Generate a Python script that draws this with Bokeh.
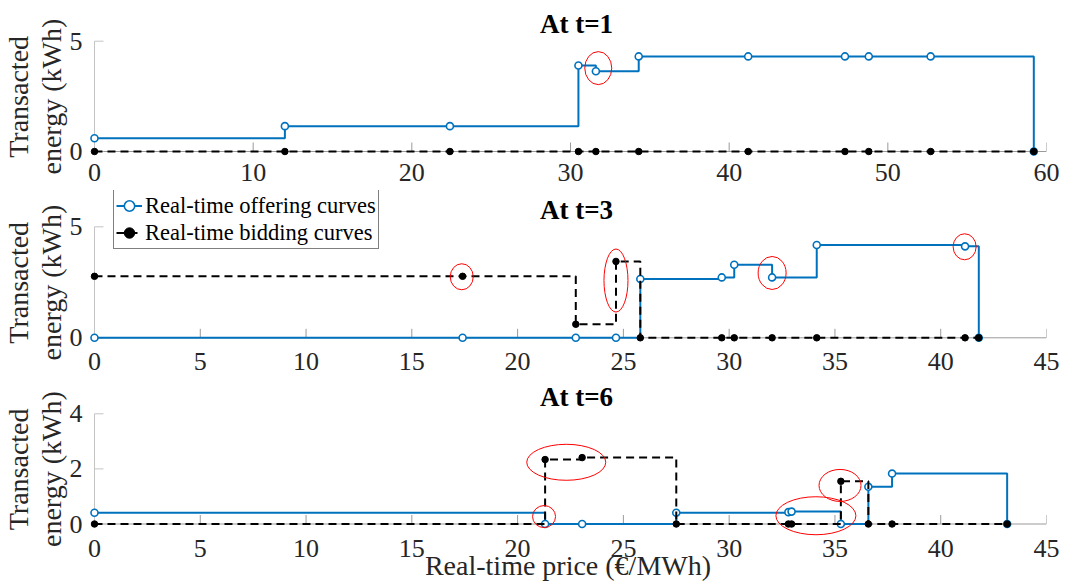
from bokeh.plotting import figure
from bokeh.layouts import column
from bokeh.models import (Range1d, FixedTicker, Legend, LegendItem, ColumnDataSource,
                          Label, Title)
from bokeh.embed import file_html
from bokeh.resources import INLINE

# ---------------- data ----------------
price_t1 = [0, 12.0, 22.4, 30.5, 31.6, 34.3, 41.2, 47.3, 48.8, 52.7, 59.2]
offer_t1 = [0.6, 1.15, 1.15, 3.9, 3.64, 4.31, 4.31, 4.31, 4.31, 4.31, 0]
bid_t1 = [0, 0, 0, 0, 0, 0, 0, 0, 0, 0, 0]

price_t3 = [0, 17.4, 22.75, 24.65, 25.8, 29.65, 30.24, 32.03, 34.14, 41.15, 41.8]
offer_t3 = [0, 0, 0, 0, 2.65, 2.72, 3.29, 2.72, 4.18, 4.12, 0]
bid_t3 = [2.77, 2.77, 0.61, 3.44, 0, 0, 0, 0, 0, 0, 0]

price_t6 = [0, 21.3, 23.05, 27.5, 32.8, 32.95, 35.28, 36.58, 37.7, 43.14]
offer_t6 = [0.41, 0, 0, 0.41, 0.43, 0.45, 0, 1.35, 1.83, 0]
bid_t6 = [0, 2.34, 2.41, 0, 0, 0, 1.55, 0, 0, 0]

# red highlight rings (centre in data units, size in px)
ring_t1_x = [31.75]
ring_t1_y = [3.78]
ring_t1_w = [27]
ring_t1_h = [33]

ring_t3_x = [17.36, 24.65, 32.03, 41.13]
ring_t3_y = [2.75, 2.58, 2.92, 4.10]
ring_t3_w = [23, 24, 28, 23]
ring_t3_h = [26, 63, 33, 26]

ring_t6_x = [22.3, 21.25, 34.1, 35.24]
ring_t6_y = [2.24, 0.27, 0.30, 1.40]
ring_t6_w = [79, 23, 80, 42]
ring_t6_h = [36, 22, 38, 32]

xticks_t1 = [0, 10, 20, 30, 40, 50, 60]
xticks_t36 = [0, 5, 10, 15, 20, 25, 30, 35, 40, 45]
yticks_t1 = [0, 5]
yticks_t3 = [0, 5]
yticks_t6 = [0, 2, 4]
xmax_t1 = 60
xmax_t36 = 45
ymax_t1 = 5
ymax_t3 = 5
ymax_t6 = 4

titles = ["At t=1", "At t=3", "At t=6"]
legend_labels = ["Real-time offering curves", "Real-time bidding curves"]
x_label = "Real-time price (€/MWh)"
y_label_lines = ["Transacted", "energy (kWh)"]

# ---------------- style / layout ----------------
FONT = "Liberation Serif"
BLUE = "#0072BD"
XAX = "#9a9a9a"
YAX = "#c4c4c4"
TXT = "#262626"
W = 1078
ZERO_X = 92          # px of x=0
RIGHT_X = 1046       # px of x=xmax
XPAD = 5
LEFT = ZERO_X - XPAD
RIGHT = W - RIGHT_X
TICK = 9
YLAB_PX = 28
YLAB_EM = [4.387, 5.581]   # advance widths (em) of the two y-label lines


def make_panel(title, price, offer, bid, xmax, xticks, ymax, yticks,
               height, top_px, zero_px, frame_bottom, label_standoff,
               rings, show_xlabel):
    xscale = (RIGHT_X - ZERO_X) / xmax
    x_start = -XPAD / xscale
    yscale = (zero_px - top_px) / ymax
    y_end = ymax + top_px / yscale
    y_start = -(frame_bottom - zero_px) / yscale
    p = figure(width=W, height=height,
               x_range=Range1d(x_start, xmax), y_range=Range1d(y_start, y_end),
               output_backend="svg", toolbar_location=None,
               min_border_left=LEFT, min_border_right=RIGHT,
               min_border_top=0, min_border_bottom=height - frame_bottom)
    p.xgrid.visible = False
    p.ygrid.visible = False
    p.outline_line_color = None
    p.background_fill_color = "white"
    p.border_fill_color = "white"

    for ax in p.xaxis:
        ax.ticker = FixedTicker(ticks=xticks)
        ax.axis_line_color = None
        ax.major_tick_line_color = None
        ax.minor_tick_line_color = None
        ax.major_label_text_font = FONT
        ax.major_label_text_font_size = "26px"
        ax.major_label_text_color = TXT
        ax.major_label_standoff = label_standoff
        if show_xlabel:
            ax.axis_label = x_label
            ax.axis_label_text_font = FONT
            ax.axis_label_text_font_size = "28px"
            ax.axis_label_text_font_style = "normal"
            ax.axis_label_text_color = TXT
            ax.axis_label_standoff = -10
    for ax in p.yaxis:
        ax.ticker = FixedTicker(ticks=yticks)
        ax.axis_line_color = None
        ax.major_tick_line_color = None
        ax.minor_tick_line_color = None
        ax.major_label_text_font = FONT
        ax.major_label_text_font_size = "26px"
        ax.major_label_text_color = TXT
        ax.major_label_standoff = 1

    # y-axis title (two lines), each centred on the 0..ymax span
    centre_from_bottom = frame_bottom - (top_px + zero_px) / 2
    for line, em in reversed(list(zip(y_label_lines, YLAB_EM))):
        off = centre_from_bottom - em * YLAB_PX / 2
        p.add_layout(Title(text=line, align="left", offset=off, standoff=0,
                           text_font=FONT, text_font_size="%dpx" % YLAB_PX,
                           text_font_style="normal", text_color=TXT), "left")

    # axis lines and inward ticks at the zero lines
    p.segment(x0=[xticks[0]], y0=[0], x1=[xticks[-1]], y1=[0], line_color=XAX, line_width=1)
    p.segment(x0=xticks, y0=[0] * len(xticks), x1=xticks,
              y1=[TICK / yscale] * len(xticks), line_color=XAX, line_width=1)
    p.segment(x0=[0], y0=[yticks[0]], x1=[0], y1=[yticks[-1]], line_color=YAX, line_width=1)
    p.segment(x0=[0] * len(yticks), y0=yticks, x1=[TICK / xscale] * len(yticks),
              y1=yticks, line_color=YAX, line_width=1)

    so = ColumnDataSource(dict(x=price, y=offer))
    sb = ColumnDataSource(dict(x=price, y=bid))
    r1 = p.step("x", "y", source=so, mode="after", line_color=BLUE, line_width=2)
    r2 = p.scatter("x", "y", source=so, marker="circle", size=7,
                   line_color=BLUE, line_width=1.6, fill_color="white")
    r3 = p.step("x", "y", source=sb, mode="after", line_color="black",
                line_width=2, line_dash="8 5")
    r4 = p.scatter("x", "y", source=sb, marker="circle", size=6.5,
                   line_color="black", fill_color="black")

    rx, ry, rw, rh = rings
    p.ellipse(x=rx, y=ry, width=rw, height=rh, width_units="screen",
              height_units="screen", fill_color=None, line_color="red",
              line_width=1)

    p.add_layout(Label(x=xmax / 2, y=ymax + 17 / yscale, x_offset=6, text=title,
                       text_font=FONT, text_font_size="27px", text_font_style="bold",
                       text_color="black", text_align="center",
                       text_baseline="alphabetic"))
    return p, (r1, r2, r3, r4)


p1, _ = make_panel(titles[0], price_t1, offer_t1, bid_t1, xmax_t1, xticks_t1,
                   ymax_t1, yticks_t1, 190, 40.7, 151, 156, 1,
                   (ring_t1_x, ring_t1_y, ring_t1_w, ring_t1_h), False)
p2, rr = make_panel(titles[1], price_t3, offer_t3, bid_t3, xmax_t36, xticks_t36,
                    ymax_t3, yticks_t3, 186, 36.3, 147.3, 152, 4,
                    (ring_t3_x, ring_t3_y, ring_t3_w, ring_t3_h), False)
p3, _ = make_panel(titles[2], price_t6, offer_t6, bid_t6, xmax_t36, xticks_t36,
                   ymax_t6, yticks_t6, 208, 37.3, 147.5, 160, -3,
                   (ring_t6_x, ring_t6_y, ring_t6_w, ring_t6_h), True)

legend = Legend(items=[LegendItem(label=legend_labels[0], renderers=[rr[0], rr[1]]),
                       LegendItem(label=legend_labels[1], renderers=[rr[2], rr[3]])],
                location=(24, 93))
legend.label_text_font = FONT
legend.label_text_font_size = "22.5px"
legend.label_text_color = "black"
legend.border_line_color = "black"
legend.border_line_width = 1
legend.background_fill_color = "white"
legend.background_fill_alpha = 1
legend.padding = 2
legend.spacing = 0
legend.margin = 0
legend.glyph_width = 26
legend.glyph_height = 27
legend.label_height = 27
legend.label_standoff = 3
p2.add_layout(legend)

layout = column(p1, p2, p3, spacing=0)
open("out.html", "w").write(file_html(layout, INLINE))
